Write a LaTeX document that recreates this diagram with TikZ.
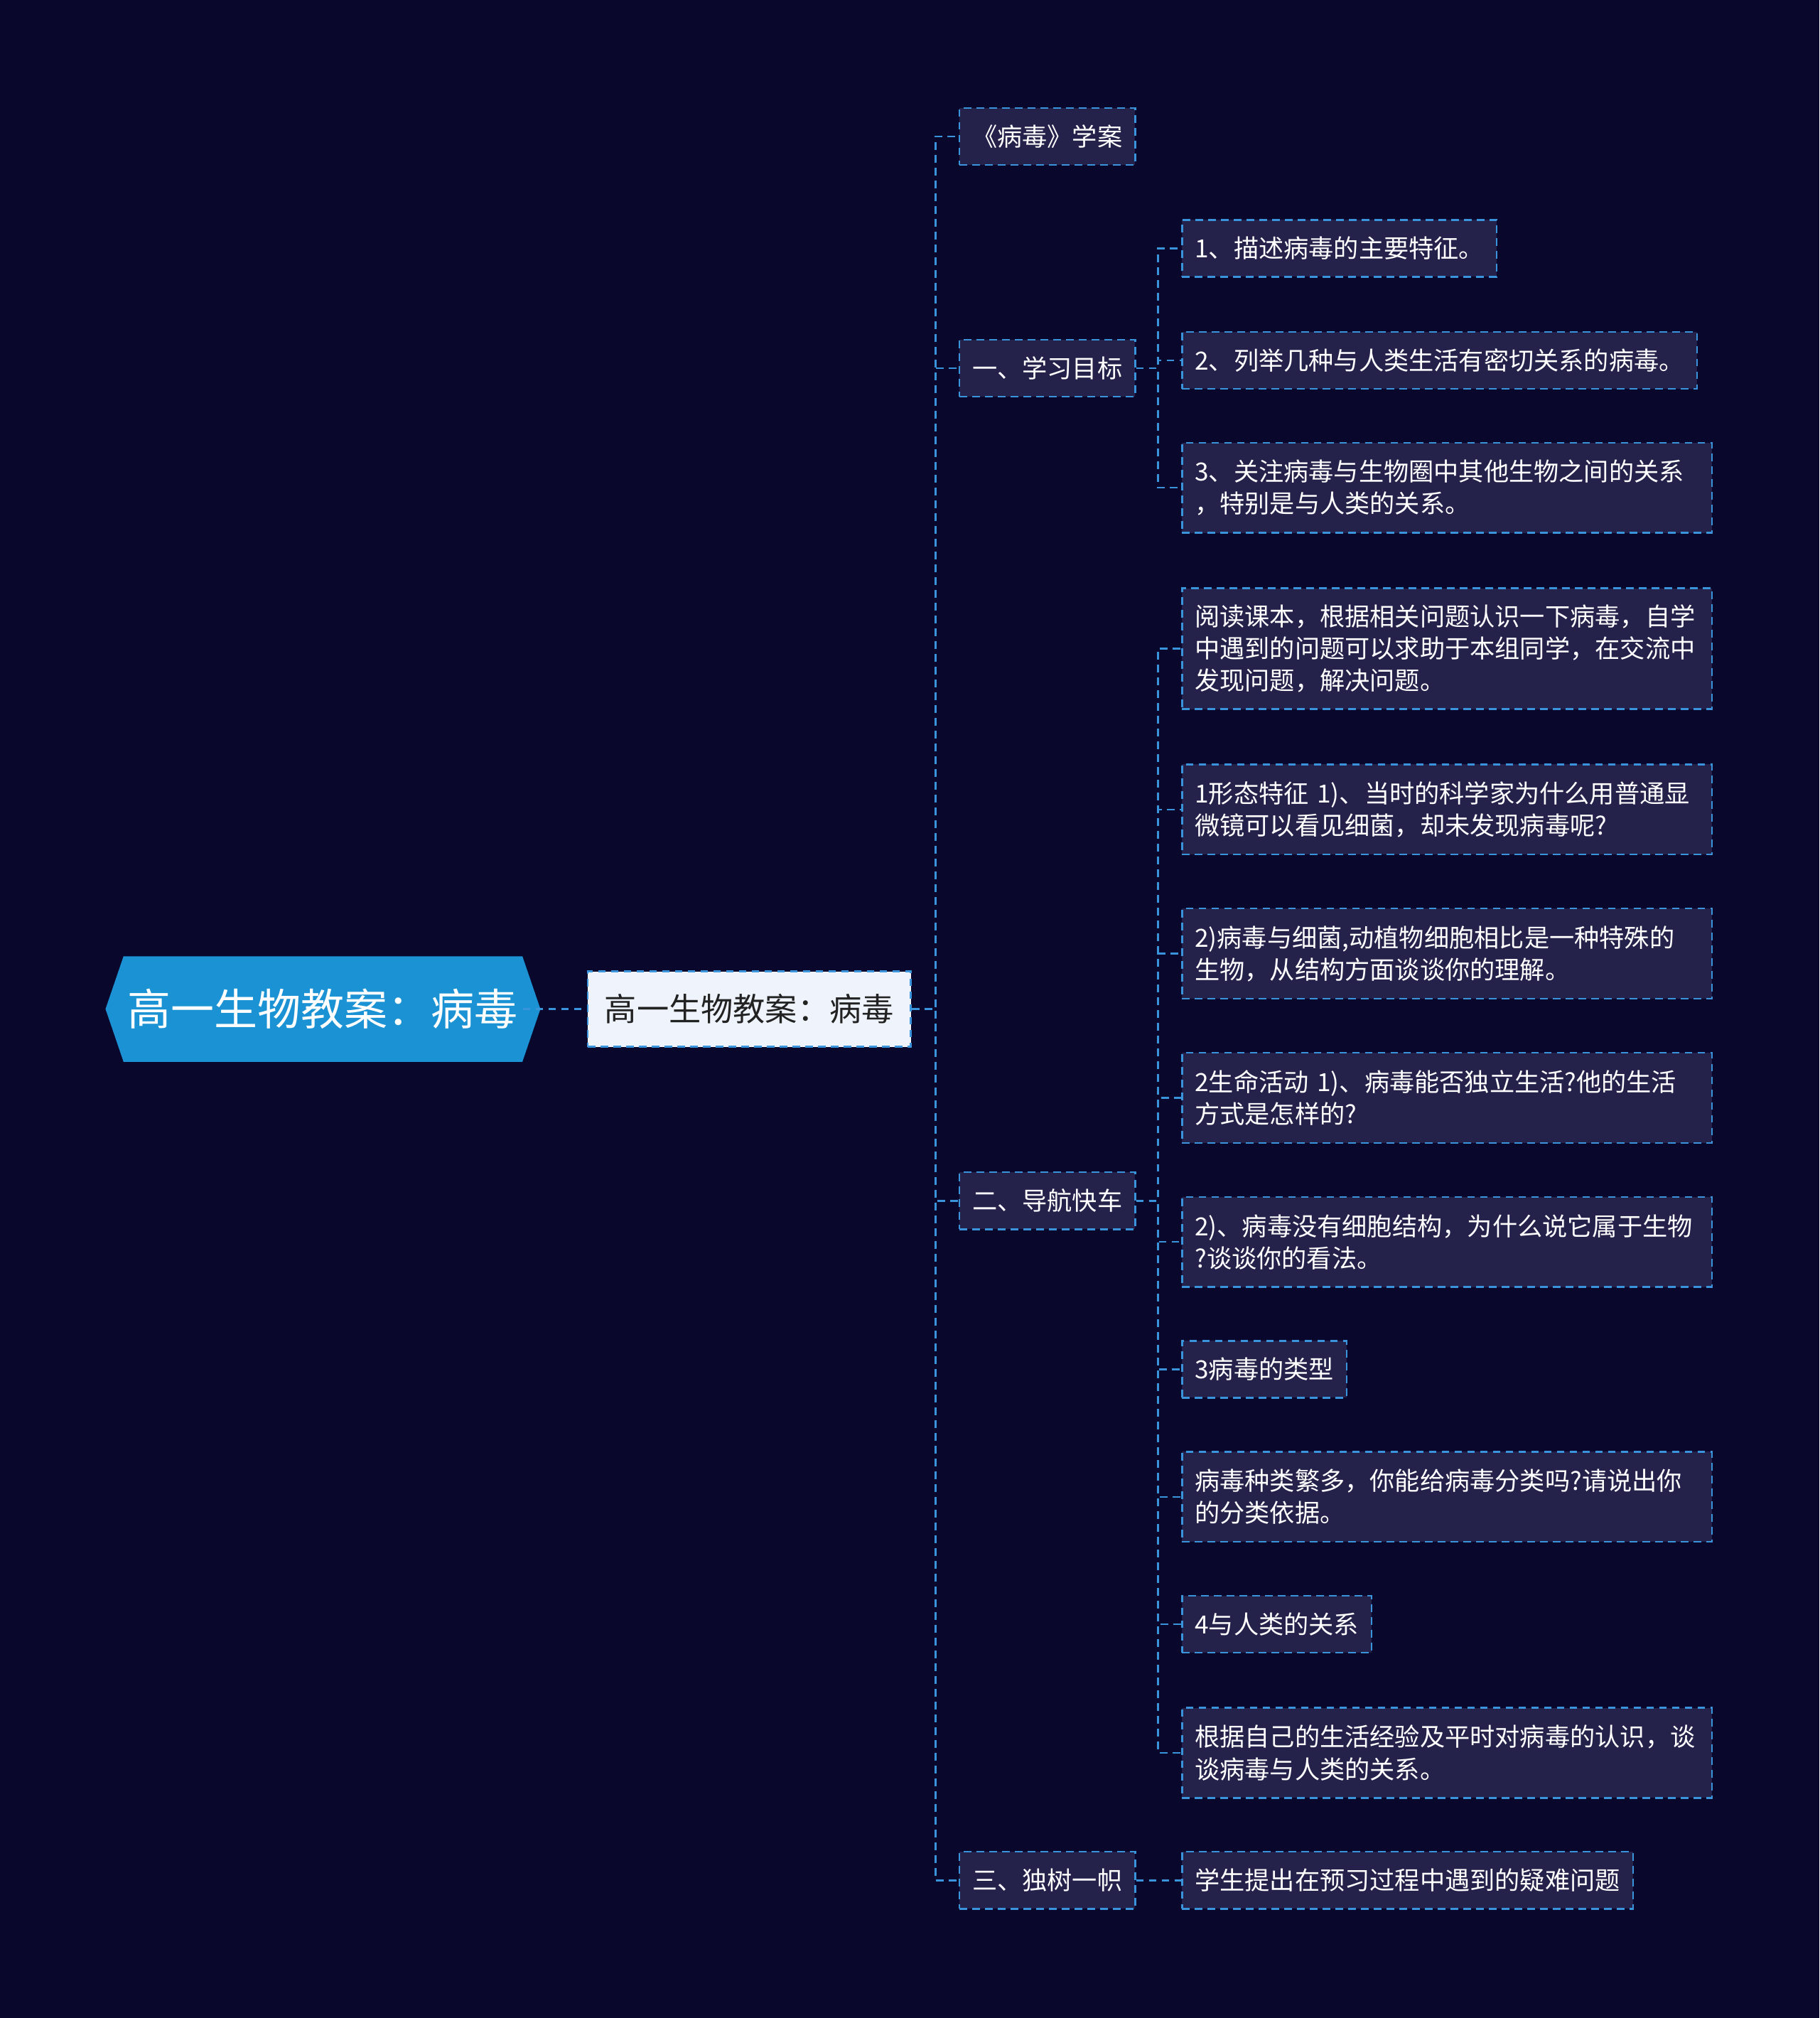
\documentclass[tikz,border=0pt]{standalone}
\usepackage{fontspec}
\newfontfamily\cjk{Noto Sans CJK SC}
\definecolor{bg}{HTML}{09072B}
\definecolor{nodefill}{HTML}{24224A}
\definecolor{lineblue}{HTML}{3A94DC}
\definecolor{rootfill}{HTML}{1A92D4}
\definecolor{lonefill}{HTML}{EEF3FC}
\definecolor{lonetext}{HTML}{222222}
\begin{document}
\begin{tikzpicture}[x=0.9052pt,y=-0.9052pt,
  conn/.style={draw=lineblue, line width=1.2pt, dash pattern=on 5.4pt off 3.6pt},
  box/.style={rectangle, draw=lineblue, line width=1.2pt, dash pattern=on 5.4pt off 3.6pt,
    fill=nodefill, text=white, font=\cjk\fontsize{17.6}{22.6}\selectfont,
    inner xsep=9pt, inner ysep=0pt, minimum height=40pt, anchor=west, align=left},
  wide/.style={box, text width=354.8pt},
  two/.style={wide, minimum height=63.4pt},
  three/.style={wide, minimum height=85pt},
]
\fill[bg] (0,0) rectangle (1414,1568);
\useasboundingbox (0,0) rectangle (1414,1568);

% root
\fill[rootfill] (82,784) -- (96,743) -- (406,743) -- (420,784) -- (406,825) -- (96,825) -- cycle;
\node[text=white, font=\cjk\fontsize{30.5}{36}\selectfont, inner sep=0pt, minimum width=310*0.9052pt, minimum height=82*0.9052pt] (root) at (251,784) {高一生物教案：病毒};

% level 1
\node[rectangle, draw=lineblue, line width=1.2pt, dash pattern=on 5.4pt off 3.6pt, fill=lonefill, text=lonetext,
  font=\cjk\fontsize{22.6}{26}\selectfont, inner xsep=12pt, inner ysep=0pt, minimum height=53pt, anchor=west] (l1) at (456,784) {高一生物教案：病毒};

% level 2
\node[box] (a1) at (745,106) {《病毒》学案};
\node[box] (a2) at (745,286) {一、学习目标};
\node[box] (a3) at (745,933) {二、导航快车};
\node[box] (a4) at (745,1461) {三、独树一帜};

% level 3 under 一
\node[box] (b1) at (918,193) {1、描述病毒的主要特征。};
\node[box] (b2) at (918,280) {2、列举几种与人类生活有密切关系的病毒。};
\node[two] (b3) at (918,379) {3、关注病毒与生物圈中其他生物之间的关系\\，特别是与人类的关系。};

% level 3 under 二
\node[three] (c1) at (918,504) {阅读课本，根据相关问题认识一下病毒，自学\\中遇到的问题可以求助于本组同学，在交流中\\发现问题，解决问题。};
\node[two] (c2) at (918,629) {1形态特征 1)、当时的科学家为什么用普通显\\微镜可以看见细菌，却未发现病毒呢?};
\node[two] (c3) at (918,741) {2)病毒与细菌,动植物细胞相比是一种特殊的\\生物，从结构方面谈谈你的理解。};
\node[two] (c4) at (918,853) {2生命活动 1)、病毒能否独立生活?他的生活\\方式是怎样的?};
\node[two] (c5) at (918,965) {2)、病毒没有细胞结构，为什么说它属于生物\\?谈谈你的看法。};
\node[box] (c6) at (918,1064) {3病毒的类型};
\node[two] (c7) at (918,1163) {病毒种类繁多，你能给病毒分类吗?请说出你\\的分类依据。};
\node[box] (c8) at (918,1262) {4与人类的关系};
\node[two] (c9) at (918,1362) {根据自己的生活经验及平时对病毒的认识，谈\\谈病毒与人类的关系。};

% level 3 under 三
\node[box] (d1) at (918,1461) {学生提出在预习过程中遇到的疑难问题};

% junctions
\coordinate (j1) at (727,784);
\coordinate (j2) at (900,286);
\coordinate (j3) at (900,933);

% connectors
\draw[conn] (root.east) -- (l1.west);
\foreach \n in {a1,a2,a3,a4}{\draw[conn] (l1.east) -- (j1) |- (\n.west);}
\foreach \n in {b1,b2,b3}{\draw[conn] (a2.east) -- (j2) |- (\n.west);}
\foreach \n in {c1,c2,c3,c4,c5,c6,c7,c8,c9}{\draw[conn] (a3.east) -- (j3) |- (\n.west);}
\draw[conn] (a4.east) -- (d1.west);
\end{tikzpicture}
\end{document}
